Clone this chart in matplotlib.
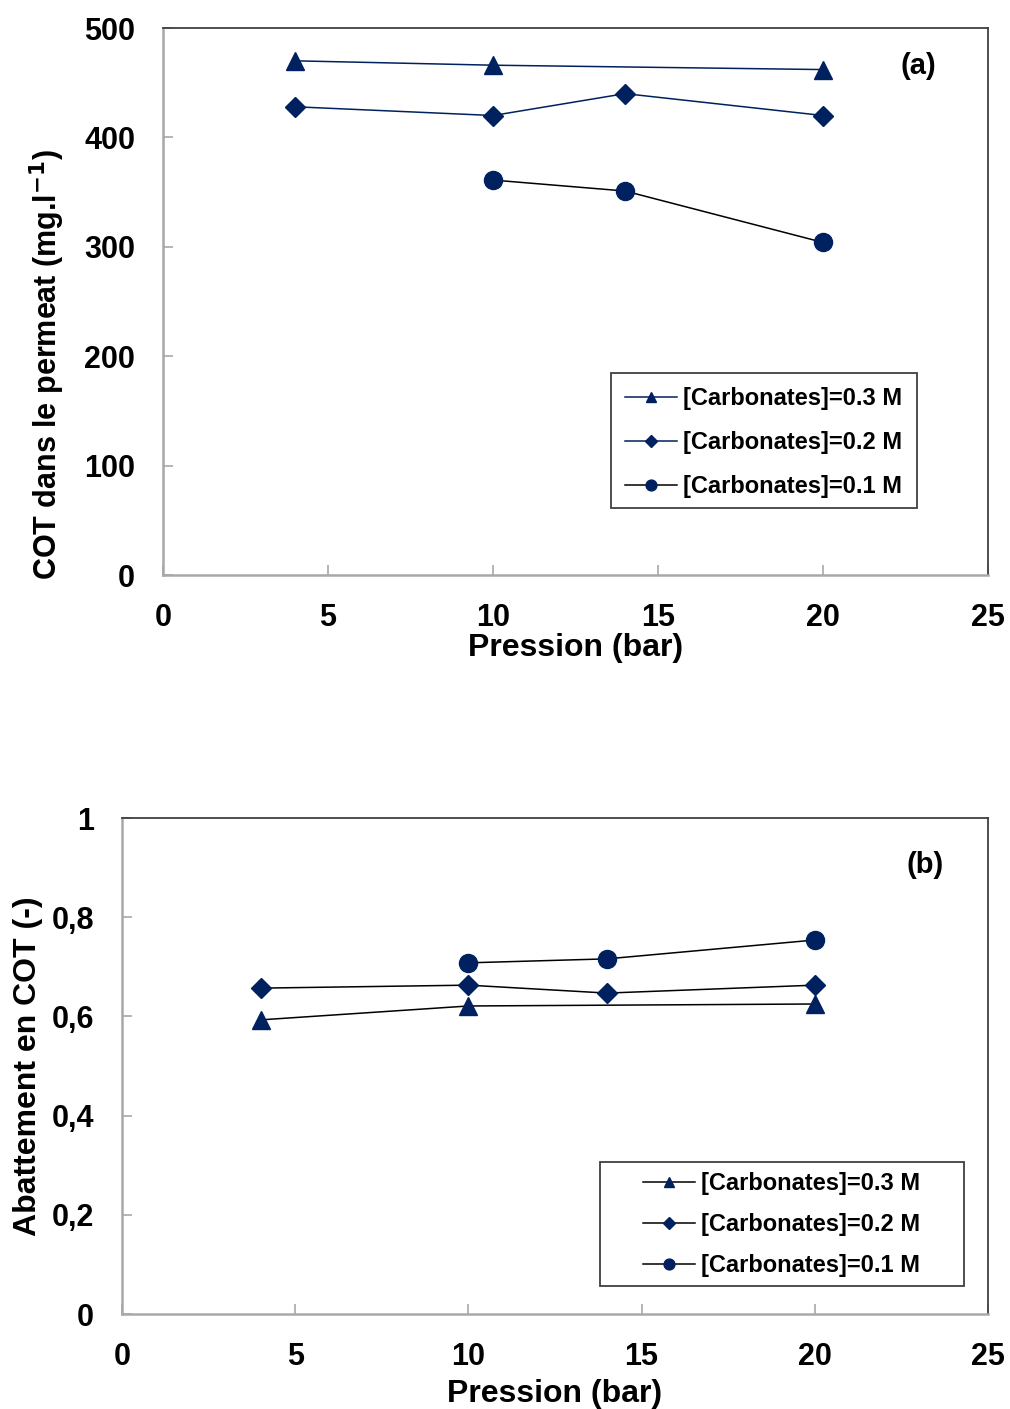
import matplotlib
matplotlib.use('Agg')
import matplotlib.pyplot as plt
from matplotlib.patches import Rectangle

plt.rcParams['font.family'] = ['Liberation Sans', 'DejaVu Sans']
plt.rcParams['font.weight'] = 'bold'
plt.rcParams['mathtext.default'] = 'bf'

# data
p_03 = [4, 10, 20]
p_02 = [4, 10, 14, 20]
p_01 = [10, 14, 20]

cot_03 = [470, 466, 462]
cot_02 = [428, 420, 440, 420]
cot_01 = [361, 351, 304]

abat_03 = [0.593, 0.621, 0.625]
abat_02 = [0.657, 0.663, 0.647, 0.663]
abat_01 = [0.708, 0.716, 0.754]

labels = ['[Carbonates]=0.3 M', '[Carbonates]=0.2 M', '[Carbonates]=0.1 M']
navy = '#00215F'
W, H = 1010, 1409


def style_axes(ax, ymax, yticks, yfmt):
    ax.set_xlim(0, 25)
    ax.set_ylim(0, ymax)
    ax.set_xticks([0, 5, 10, 15, 20, 25])
    ax.set_yticks(yticks)
    ax.set_yticklabels([yfmt(v) for v in yticks])
    ax.tick_params(direction='in', length=7, width=1.2, color='#a8a8a8',
                   labelsize=22)
    ax.tick_params(axis='y', pad=20)
    ax.tick_params(axis='x', pad=20)
    for s in ['left', 'bottom']:
        ax.spines[s].set_color('#a8a8a8')
        ax.spines[s].set_linewidth(1.8)
    for s in ['top', 'right']:
        ax.spines[s].set_color('#404040')
        ax.spines[s].set_linewidth(1.3)
    for t in ax.get_xticklabels() + ax.get_yticklabels():
        t.set_fontweight('bold')


def add_legend(ax, x0, ytop, box, spacing):
    leg = ax.legend(loc='upper left', bbox_to_anchor=(x0 / W, 1 - ytop / H),
                    bbox_transform=fig.transFigure, fontsize=17, markerscale=0.6,
                    frameon=False, borderpad=0, borderaxespad=0, handlelength=2.2,
                    labelspacing=spacing, handletextpad=0.25)
    for t in leg.get_texts():
        t.set_fontweight('bold')
    bx0, by0, bx1, by1 = box
    fig.patches.append(Rectangle((bx0 / W, 1 - by1 / H), (bx1 - bx0) / W, (by1 - by0) / H,
                                 transform=fig.transFigure, fill=False,
                                 edgecolor='#404040', lw=1.3, zorder=5))


fig = plt.figure(figsize=(10.1, 14.09), dpi=100)

# (a)
ax1 = fig.add_axes([163 / W, 1 - 575 / H, 825 / W, 547 / H])
ax1.plot(p_03, cot_03, color=navy, lw=1.1, marker='^', ms=13, mfc=navy, mec=navy, label=labels[0])
ax1.plot(p_02, cot_02, color=navy, lw=1.1, marker='D', ms=10, mfc=navy, mec=navy, label=labels[1])
ax1.plot(p_01, cot_01, color='black', lw=1.1, marker='o', ms=13, mfc=navy, mec=navy, label=labels[2])
style_axes(ax1, 500, [0, 100, 200, 300, 400, 500], lambda v: '%d' % v)
ax1.set_xlabel('Pression (bar)', fontsize=23, fontweight='bold', labelpad=0)
ax1.set_ylabel('COT dans le permeat (mg.l$^{-1}$)', fontsize=22, fontweight='bold')
ax1.yaxis.set_label_coords((67 - 163) / 825, (575 - 365) / 547)
ax1.text(0.915, 0.93, '(a)', transform=ax1.transAxes, fontsize=21, fontweight='bold',
         ha='center', va='center')
add_legend(ax1, 625, 387, (611, 373, 917, 508), 0.9)

# (b)
ax2 = fig.add_axes([122 / W, 1 - 1314 / H, 866 / W, 496 / H])
ax2.plot(p_03, abat_03, color='black', lw=1.1, marker='^', ms=13, mfc=navy, mec=navy, label=labels[0])
ax2.plot(p_02, abat_02, color='black', lw=1.1, marker='D', ms=10, mfc=navy, mec=navy, label=labels[1])
ax2.plot(p_01, abat_01, color='black', lw=1.1, marker='o', ms=13, mfc=navy, mec=navy, label=labels[2])
style_axes(ax2, 1, [0, 0.2, 0.4, 0.6, 0.8, 1],
           lambda v: ('%g' % v).replace('.', ','))
ax2.set_xlabel('Pression (bar)', fontsize=23, fontweight='bold', labelpad=5)
ax2.set_ylabel('Abattement en COT (-)', fontsize=23, fontweight='bold')
ax2.yaxis.set_label_coords((43 - 122) / 866, 0.5)
ax2.text(0.927, 0.905, '(b)', transform=ax2.transAxes, fontsize=21, fontweight='bold',
         ha='center', va='center')
add_legend(ax2, 643, 1172, (600, 1162, 964, 1286), 0.76)

fig.savefig('out.png', dpi=100, facecolor='white')
